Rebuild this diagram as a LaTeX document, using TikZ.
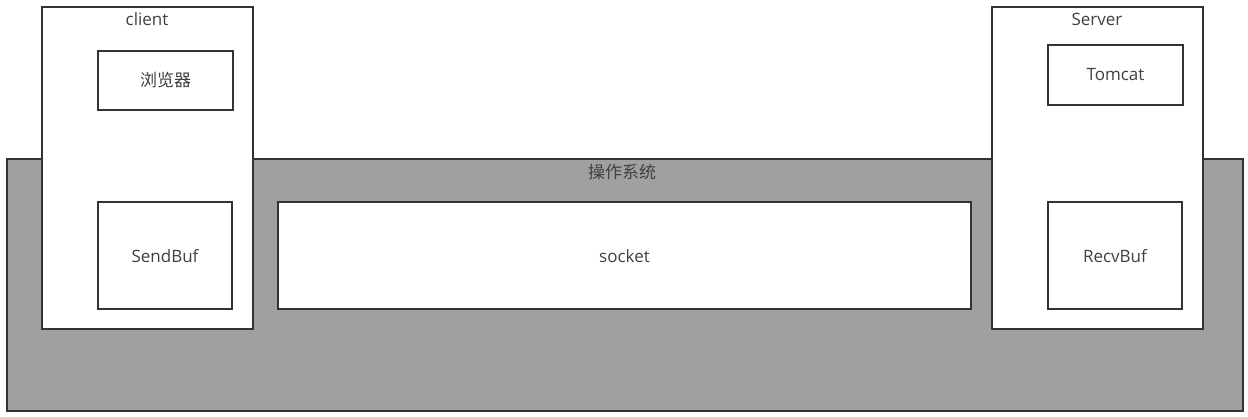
\documentclass[tikz,border=0pt]{standalone}
\usepackage{fontspec}
\setmainfont{Open Sans}
\newfontfamily\cjk{Noto Sans CJK SC}
\definecolor{osgray}{RGB}{160,159,161}
\definecolor{edge}{RGB}{51,51,51}
\definecolor{txt}{RGB}{64,64,64}
\tikzset{
  px/.style={x=1pt,y=-1pt},
  box/.style={draw=edge,line width=2pt,fill=white},
  lbl/.style={text=txt,font=\fontsize{17}{20}\selectfont,inner sep=0pt}
}
\begin{document}
\begin{tikzpicture}[px]
\useasboundingbox (0,0) rectangle (1248,417);
\fill[white] (0,0) rectangle (1248,417);
% operating system
\draw[draw=edge,line width=2pt,fill=osgray] (7,159) rectangle (1243,411);
\node[lbl,font=\cjk\fontsize{17}{20}\selectfont] (os) at (622,172) {操作系统};
% client
\draw[box] (42,7) rectangle (253,329);
\node[lbl] (client) at (147,19) {client};
\draw[box] (98,51) rectangle (233,110);
\node[lbl,font=\cjk\fontsize{17}{20}\selectfont] (browser) at (165.5,80.5) {浏览器};
\draw[box] (98,202) rectangle (232,309);
\node[lbl] (send) at (165,256) {SendBuf};
% socket
\draw[box] (278,202) rectangle (971,309);
\node[lbl] (socket) at (624.5,256) {socket};
% server
\draw[box] (992,7) rectangle (1203,329);
\node[lbl] (server) at (1097,19) {Server};
\draw[box] (1048,45) rectangle (1183,105);
\node[lbl] (tomcat) at (1115.5,75) {Tomcat};
\draw[box] (1048,202) rectangle (1182,309);
\node[lbl] (recv) at (1115,256) {RecvBuf};
\end{tikzpicture}
\end{document}
